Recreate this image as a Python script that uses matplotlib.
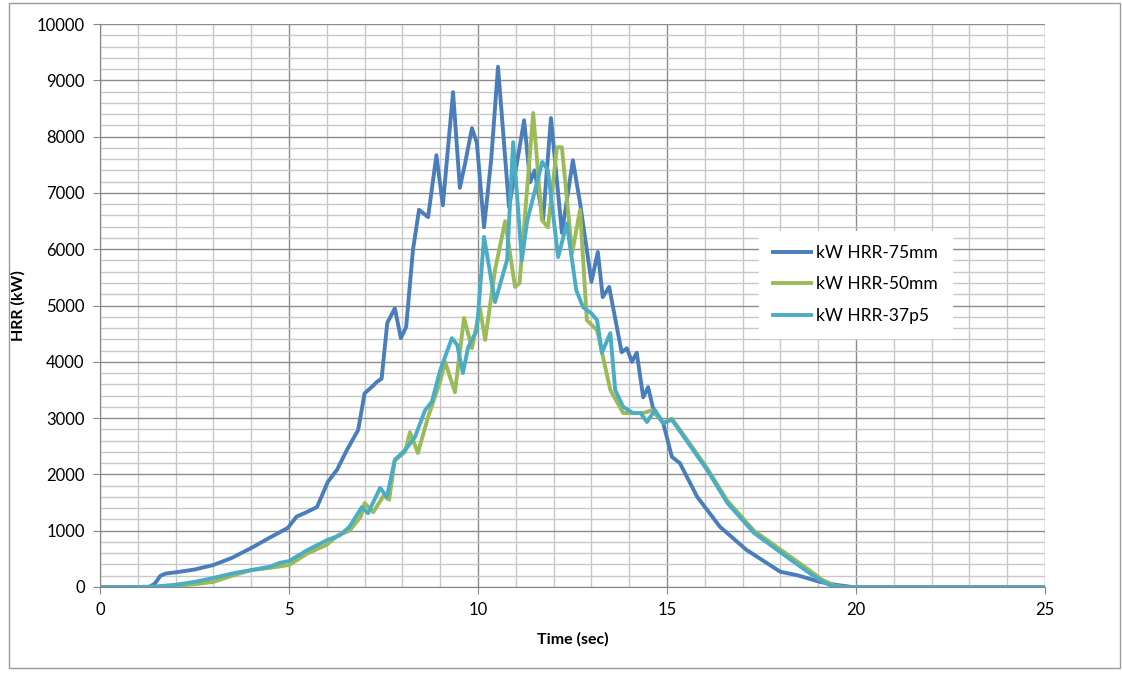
import matplotlib
matplotlib.use("Agg")
import matplotlib.pyplot as plt
from matplotlib.ticker import MultipleLocator
from matplotlib.patches import Rectangle

# kW HRR-75mm
x75 = [0, 1.3, 1.45, 1.6, 1.75, 2.0, 2.5, 3.0, 3.5, 4.05, 4.5, 4.97, 5.2, 5.47, 5.74,
       6.03, 6.27, 6.53, 6.83, 7.0, 7.2, 7.32, 7.45, 7.6, 7.8, 7.96, 8.1, 8.28, 8.44,
       8.68, 8.9, 9.07, 9.34, 9.52, 9.66, 9.84, 9.97, 10.16, 10.35, 10.53, 10.82, 11.03,
       11.22, 11.38, 11.5, 11.72, 11.93, 12.22, 12.51, 12.7, 13.0, 13.17, 13.3, 13.47,
       13.8, 13.94, 14.07, 14.2, 14.37, 14.5, 14.63, 14.9, 15.13, 15.34, 15.8, 16.4,
       17.1, 18.0, 18.44, 19.05, 19.5, 19.9, 25]
y75 = [0, 0, 60, 200, 240, 260, 310, 390, 520, 710, 880, 1050, 1250, 1330, 1420,
       1870, 2080, 2430, 2790, 3440, 3560, 3640, 3700, 4690, 4950, 4420, 4620, 5990, 6700,
       6570, 7670, 6780, 8790, 7090, 7530, 8150, 7890, 6390, 7600, 9240, 6750, 7530,
       8290, 7190, 7400, 6520, 8330, 6290, 7580, 6820, 5420, 5950, 5150, 5330,
       4170, 4240, 4000, 4160, 3370, 3550, 3180, 2910, 2310, 2200, 1600, 1070,
       660, 270, 210, 90, 35, 0, 0]

# kW HRR-50mm
x50 = [0, 1.5, 2.0, 2.5, 3.0, 3.5, 4.0, 4.5, 5.0, 5.5, 6.0, 6.3, 6.6, 6.9, 7.0, 7.23,
       7.5, 7.65, 7.8, 8.07, 8.2, 8.41, 8.68, 9.0, 9.13, 9.39, 9.63, 9.84, 10.05, 10.19,
       10.45, 10.72, 10.98, 11.1, 11.46, 11.69, 11.85, 12.09, 12.22, 12.49, 12.7, 12.88,
       13.15, 13.5, 13.84, 14.37, 14.6, 14.9, 15.13, 15.6, 16.06, 16.6, 17.3, 18.2, 18.7,
       19.1, 19.45, 19.7, 25]
y50 = [0, 0, 20, 50, 90, 200, 300, 340, 390, 600, 750, 920, 1000, 1250, 1490, 1330,
       1620, 1550, 2250, 2400, 2750, 2380, 3020, 3650, 4000, 3460, 4780, 4240, 4950, 4390,
       5630, 6500, 5330, 5400, 8420, 6520, 6390, 7810, 7810, 5930, 6700, 4740,
       4560, 3500, 3090, 3090, 3140, 2920, 2990, 2550, 2110, 1530, 1000, 570, 330,
       130, 20, 0, 0]

# kW HRR-37p5
x37 = [0, 1.0, 1.5, 2.0, 2.5, 3.0, 3.5, 4.0, 4.5, 4.76, 5.0, 5.5, 6.0, 6.35, 6.6, 6.93,
       7.09, 7.41, 7.59, 7.8, 8.07, 8.33, 8.6, 8.78, 9.0, 9.31, 9.45, 9.6, 9.74, 9.97,
       10.16, 10.45, 10.77, 10.93, 11.16, 11.3, 11.7, 11.85, 12.12, 12.35, 12.6, 12.78,
       13.0, 13.15, 13.28, 13.5, 13.63, 13.84, 14.1, 14.3, 14.47, 14.68, 14.9, 15.13,
       15.6, 16.06, 16.6, 17.3, 18.2, 18.7, 19.1, 19.35, 19.6, 25]
y37 = [0, 0, 10, 40, 90, 160, 240, 300, 360, 430, 460, 660, 830, 920, 1070, 1420,
       1310, 1760, 1600, 2260, 2430, 2660, 3140, 3290, 3850, 4420, 4300, 3800, 4260, 4560,
       6220, 5060, 5810, 7900, 5800, 6500, 7550, 7400, 5860, 6460, 5270, 4970,
       4860, 4740, 4160, 4510, 3500, 3200, 3090, 3090, 2930, 3140, 2910, 2970,
       2520, 2080, 1490, 960, 520, 280, 100, 20, 0, 0]

plt.rcParams["font.family"] = ["Lato", "DejaVu Sans"]

fig = plt.figure(figsize=(11.22, 6.73), dpi=100)
ax = fig.add_axes([0.0891, 0.1278, 0.8423, 0.8365])

ax.plot(x75, y75, color="#4A7EBB", lw=2.8, label="kW HRR-75mm", solid_joinstyle="round")
ax.plot(x50, y50, color="#9BBB59", lw=2.8, label="kW HRR-50mm", solid_joinstyle="round")
ax.plot(x37, y37, color="#4BACC6", lw=2.8, label="kW HRR-37p5", solid_joinstyle="round")

ax.set_xlim(0, 25)
ax.set_ylim(0, 10000)
ax.xaxis.set_major_locator(MultipleLocator(5))
ax.xaxis.set_minor_locator(MultipleLocator(1))
ax.yaxis.set_major_locator(MultipleLocator(1000))
ax.yaxis.set_minor_locator(MultipleLocator(200))
ax.grid(True, which="major", color="#8c8c8c", lw=1)
ax.grid(True, which="minor", color="#c8c8c8", lw=1)
ax.set_axisbelow(True)

for s in ["top", "right"]:
    ax.spines[s].set_visible(False)
for s in ["left", "bottom"]:
    ax.spines[s].set_color("#868686")
ax.tick_params(which="major", direction="out", length=5, color="#868686",
               labelsize=12, pad=6)
ax.tick_params(which="minor", length=0)

ax.set_xlabel("Time (sec)", fontweight="bold", fontsize=11.5, labelpad=10)
ax.set_ylabel("HRR (kW)", fontweight="bold", fontsize=11.5, labelpad=8)

leg = ax.legend(loc="upper left", bbox_to_anchor=(0.688, 0.648), frameon=True,
                fontsize=12.5, handlelength=2.2, handletextpad=0.3, labelspacing=0.9,
                borderpad=0.8, fancybox=False)
leg.get_frame().set_edgecolor("white")
leg.get_frame().set_facecolor("white")
leg.get_frame().set_alpha(1)

fig.patches.append(Rectangle((0.008, 0.007), 0.99, 0.988, transform=fig.transFigure,
                             fill=False, edgecolor="#9a9a9a", lw=1))

plt.savefig("out.png", dpi=100)
